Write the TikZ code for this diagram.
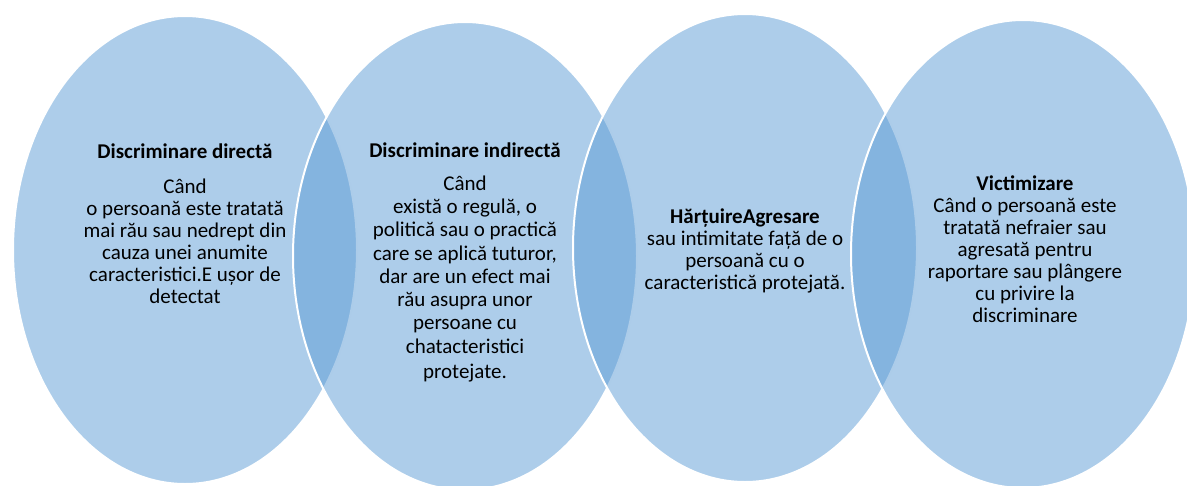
\documentclass[tikz,border=0pt]{standalone}
\usepackage{fontspec}
\setmainfont{Carlito}
\usetikzlibrary{shapes.geometric}
\definecolor{venn}{RGB}{91,155,213}
\tikzset{
  vennell/.style={ellipse, fill=venn, fill opacity=0.5, draw=white, draw opacity=1, line width=2pt, minimum width=344pt, minimum height=468pt, inner sep=0pt},
  label/.style={align=center, anchor=base, inner sep=0pt, font=\fontsize{21}{22}\selectfont, text=black}
}
\begin{document}
\begin{tikzpicture}[x=1pt,y=-1pt]
\useasboundingbox (0,0) rectangle (1187,485);
\clip (0,0) rectangle (1187,485);
\node[vennell] (e1) at (185,250) {};
\node[vennell] (e2) at (465,256) {};
\node[vennell] (e3) at (745,248) {};
\node[vennell] (e4) at (1023,254) {};
\node[label] (t1) at (185,303) {\textbf{Discriminare directă}\\[13pt]
Când\\ o persoană este tratată\\ mai rău sau nedrept din\\ cauza unei anumite\\ caracteristici.E ușor de\\ detectat};
\node[label, font=\fontsize{21}{23.3}\selectfont] (t2) at (465,378) {\textbf{Discriminare indirectă}\\[9.7pt]
Când\\ există o regulă, o\\ politică sau o practică\\ care se aplică tuturor,\\ dar are un efect mai\\ rău asupra unor\\ persoane cu\\ chatacteristici\\[1.5pt] protejate.};
\node[label] (t3) at (745,289) {\textbf{HărțuireAgresare}\\ sau intimitate față de o\\ persoană cu o\\ caracteristică protejată.};
\node[label] (t4) at (1025,322) {\textbf{Victimizare}\\ Când o persoană este\\ tratată nefraier sau\\ agresată pentru\\ raportare sau plângere\\ cu privire la\\ discriminare};
\end{tikzpicture}
\end{document}
